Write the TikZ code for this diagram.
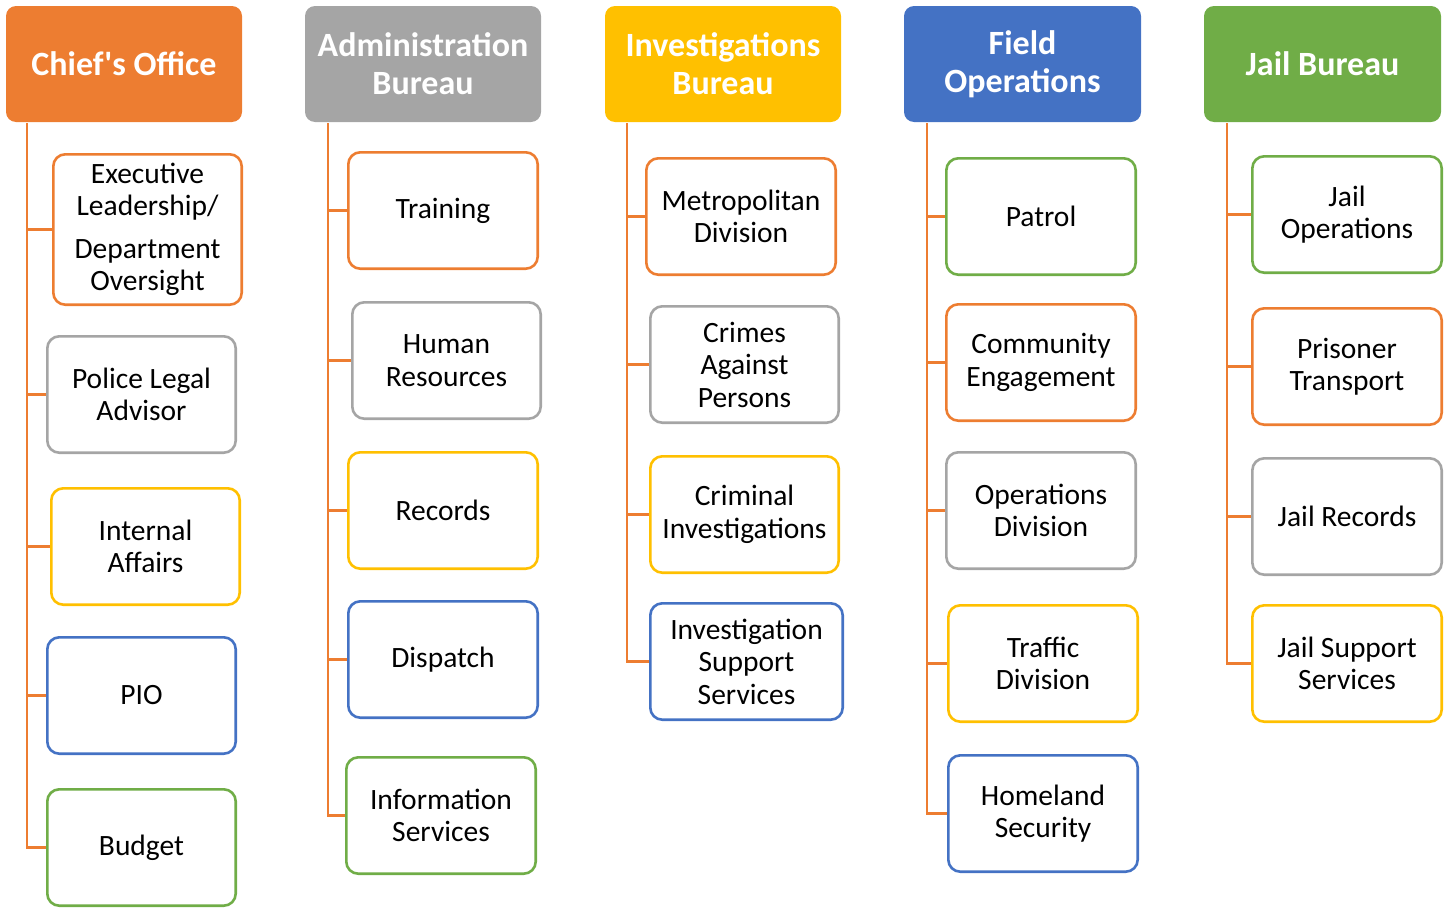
\documentclass[tikz,border=0pt]{standalone}
\usepackage{fontspec}
\newfontfamily\carl{Carlito}
\definecolor{corange}{HTML}{ED7D31}
\definecolor{cgray}{HTML}{A5A5A5}
\definecolor{cgold}{HTML}{FFC000}
\definecolor{cblue}{HTML}{4472C4}
\definecolor{cgreen}{HTML}{70AD47}
\tikzset{
  hdr/.style={rounded corners=10pt, inner sep=0pt, align=center, text=white,
    font=\carl\bfseries\fontsize{34}{38}\selectfont},
  kid/.style={draw=#1, fill=white, line width=2.6pt, rounded corners=12pt, inner sep=0pt,
    align=center, font=\carl\fontsize{29.5}{32.5}\selectfont},
  conn/.style={draw=corange, line width=2.6pt}
}
% \kidbox{name}{x1}{y1}{x2}{y2}{colour}{text}
\newcommand\kidbox[7]{%
  \node[kid=#6, minimum width={#4-#2-2.6}, minimum height={#5-#3-2.6}]
    (#1) at ({(#2+#4)/2},{(#3+#5)/2}) {#7};}
\newcommand\hdrbox[6]{%
  \node[hdr, fill=#5, minimum width={#3-#2}, minimum height={116}]
    (#1) at ({(#2+#3)/2},{64}) {#6};
  \coordinate (#1t) at (#4,123);}
\begin{document}
\begin{tikzpicture}[x=1pt,y=-1pt]
\useasboundingbox (0,0) rectangle (1445,910);
% headers
\hdrbox{h1}{6}{242}{27}{corange}{Chief{\char"27}s Office}
\hdrbox{h2}{305}{541}{328}{cgray}{Administration\\Bureau}
\hdrbox{h3}{605}{841}{627}{cgold}{Investigations\\Bureau}
\hdrbox{h4}{904}{1141}{927}{cblue}{Field\\Operations}
\hdrbox{h5}{1204}{1441}{1227}{cgreen}{Jail Bureau}
% column 1
\kidbox{a1}{52}{153}{243}{306}{corange}{Executive\\Leadership/\\[10pt]Department\\Oversight}
\kidbox{a2}{46}{335}{237}{454}{cgray}{Police Legal\\Advisor}
\kidbox{a3}{50}{487}{241}{606}{cgold}{Internal\\Affairs}
\kidbox{a4}{46}{636}{237}{755}{cblue}{PIO}
\kidbox{a5}{46}{788}{237}{907}{cgreen}{Budget}
% column 2
\kidbox{b1}{347}{151}{539}{270}{corange}{Training}
\kidbox{b2}{351}{301}{542}{420}{cgray}{Human\\Resources}
\kidbox{b3}{347}{451}{539}{570}{cgold}{Records}
\kidbox{b4}{347}{600}{539}{719}{cblue}{Dispatch}
\kidbox{b5}{345}{756}{537}{875}{cgreen}{Information\\Services}
% column 3
\kidbox{c1}{645}{157}{837}{276}{corange}{Metropolitan\\Division}
\kidbox{c2}{649}{305}{840}{424}{cgray}{Crimes\\Against\\Persons}
\kidbox{c3}{649}{455}{840}{574}{cgold}{Criminal\\Investigations}
\kidbox{c4}{649}{602}{844}{721}{cblue}{Investigation\\Support\\Services}
% column 4
\kidbox{d1}{945}{157}{1137}{276}{cgreen}{Patrol}
\kidbox{d2}{945}{303}{1137}{422}{corange}{Community\\Engagement}
\kidbox{d3}{945}{451}{1137}{570}{cgray}{Operations\\Division}
\kidbox{d4}{947}{604}{1139}{723}{cgold}{Traffic\\Division}
\kidbox{d5}{947}{754}{1139}{873}{cblue}{Homeland\\Security}
% column 5
\kidbox{e1}{1251}{155}{1443}{274}{cgreen}{Jail\\Operations}
\kidbox{e2}{1251}{307}{1443}{426}{corange}{Prisoner\\Transport}
\kidbox{e3}{1251}{457}{1443}{576}{cgray}{Jail Records}
\kidbox{e4}{1251}{604}{1443}{723}{cgold}{Jail Support\\Services}
% connectors
\foreach \k in {a1,a2,a3,a4,a5} \draw[conn] (h1t) |- (\k.west);
\foreach \k in {b1,b2,b3,b4,b5} \draw[conn] (h2t) |- (\k.west);
\foreach \k in {c1,c2,c3,c4} \draw[conn] (h3t) |- (\k.west);
\foreach \k in {d1,d2,d3,d4,d5} \draw[conn] (h4t) |- (\k.west);
\foreach \k in {e1,e2,e3,e4} \draw[conn] (h5t) |- (\k.west);
\end{tikzpicture}
\end{document}
